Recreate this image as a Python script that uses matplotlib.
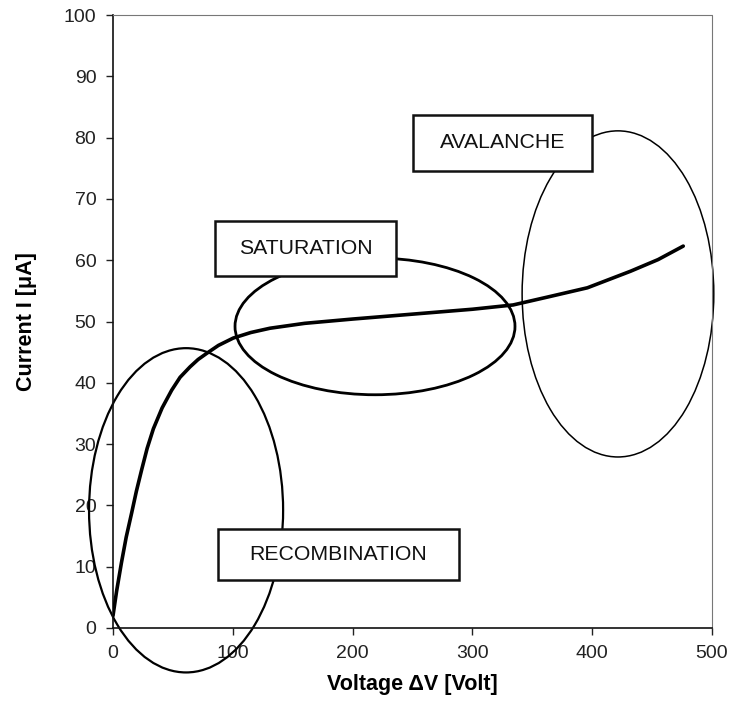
import matplotlib
matplotlib.use("Agg")
import matplotlib.pyplot as plt
from matplotlib.patches import Ellipse, Rectangle

plt.rcParams['font.family'] = ['Liberation Sans', 'DejaVu Sans']

# I-V curve data
voltage = [0, 3, 7, 11, 15.6, 19.5, 23.9, 28.5, 33.7, 41, 49, 56, 64.3, 71, 78.2, 88, 100.4, 115, 131,
           160, 200, 250, 300, 334, 363, 396, 432, 455, 476]
current = [2, 6, 10.6, 14.8, 18.8, 22.3, 25.8, 29.3, 32.5, 35.9, 38.8, 40.9, 42.6, 43.8, 44.8,
           46.1, 47.3, 48.2, 48.9, 49.7, 50.4, 51.2, 52.0, 52.7, 54.0, 55.5, 58.2, 60.1, 62.3]

x_ticks = [0, 100, 200, 300, 400, 500]
y_ticks = [0, 10, 20, 30, 40, 50, 60, 70, 80, 90, 100]

# Region annotations: label, box (x0, y0, x1, y1) in data units, ellipse (cx, cy, w, h, lw)
region_labels = ["RECOMBINATION", "SATURATION", "AVALANCHE"]
region_boxes = [(87.6, 7.8, 288.8, 16.2), (85.1, 57.4, 236.2, 66.4), (250.4, 74.6, 399.8, 83.7)]
region_ellipses = [(61.0, 19.2, 162.0, 52.9, 1.6), (218.7, 49.2, 233.7, 22.3, 2.0), (421.5, 54.5, 160.0, 53.2, 1.1)]

fig = plt.figure(figsize=(7.31, 7.13), dpi=100)
ax = fig.add_axes([113/731, 1 - 628/713, 599/731, 613/713])

ax.plot(voltage, current, color='black', lw=2.6, solid_capstyle='round', solid_joinstyle='round', zorder=3)

for (cx, cy, w, h, lw) in region_ellipses:
    e = Ellipse((cx, cy), w, h, fill=False, edgecolor='black', lw=lw, clip_on=False, zorder=2)
    ax.add_patch(e)

for lab, (x0, y0, x1, y1) in zip(region_labels, region_boxes):
    r = Rectangle((x0, y0), x1 - x0, y1 - y0, facecolor='white', edgecolor='#111111',
                  lw=1.8, clip_on=False, zorder=4)
    ax.add_patch(r)
    ax.text((x0 + x1) / 2, (y0 + y1) / 2, lab, ha='center', va='center', fontsize=15.3,
            color='#111111', zorder=5)

ax.set_xlim(0, 500)
ax.set_ylim(0, 100)
ax.set_xticks(x_ticks)
ax.set_yticks(y_ticks)
ax.tick_params(axis='both', labelsize=14, direction='out', length=5, width=1, color='#222222',
               labelcolor='#222222')
ax.tick_params(axis='y', pad=7)
ax.tick_params(axis='x', pad=7)

for s in ['left', 'bottom']:
    ax.spines[s].set_color('#111111')
    ax.spines[s].set_linewidth(1.2)
for s in ['top', 'right']:
    ax.spines[s].set_color('#777777')
    ax.spines[s].set_linewidth(0.8)
    ax.spines[s].set_linestyle((0, (1, 1)))

ax.set_xlabel('Voltage \u0394V [Volt]', fontsize=15.5, fontweight='bold', labelpad=9)
ax.set_ylabel('Current I [\u03bcA]', fontsize=15.5, fontweight='bold', labelpad=19)

fig.savefig('out.png', dpi=100, facecolor='white')
